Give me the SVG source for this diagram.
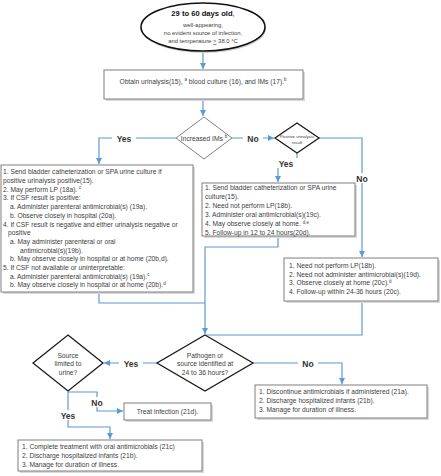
<svg xmlns="http://www.w3.org/2000/svg" width="441" height="476" viewBox="0 0 441 476">
<defs>
<style>
.t{font-family:"Liberation Sans",Arial,sans-serif;font-size:6.7px;fill:#404040}
.c{text-anchor:middle}
.lb{font-family:"Liberation Sans",Arial,sans-serif;font-size:8.5px;font-weight:bold;fill:#333;text-anchor:middle}
.box{fill:#fff;stroke:#7f7f7f;stroke-width:1}
.sh{fill:#d9d9d9}
.con{fill:none;stroke:#5b9bd5;stroke-width:1.2}
.dk{fill:#fff;stroke:#1a1a1a;stroke-width:1.3}
.bg{fill:#fff}
</style>
<marker id="ah" viewBox="0 0 10 10" refX="10" refY="5" markerWidth="6" markerHeight="6" markerUnits="userSpaceOnUse" orient="auto">
<path d="M0,0 L10,5 L0,10 z" fill="#5b9bd5"/>
</marker>
</defs>
<rect width="441" height="476" fill="#fff"/>

<g id="connectors">
<path class="con" d="M203,51 V69" marker-end="url(#ah)"/>
<path class="con" d="M203,100 V116" marker-end="url(#ah)"/>
<path class="con" d="M176,138 H99 V164" marker-end="url(#ah)"/>
<path class="con" d="M232,138 H274" marker-end="url(#ah)"/>
<path class="con" d="M319,138 H362 V257" marker-end="url(#ah)"/>
<path class="con" d="M297,153 V163 H278 V182" marker-end="url(#ah)"/>
<path class="con" d="M99,293 V303 H205"/>
<path class="con" d="M278,237 V247 H205 V334" marker-end="url(#ah)"/>
<path class="con" d="M362,302 V335 H206"/>
<path class="con" d="M157,363 H104" marker-end="url(#ah)"/>
<path class="con" d="M253,363 H342 V384" marker-end="url(#ah)"/>
<path class="con" d="M68,392 H97 V411 H123" marker-end="url(#ah)"/>
<path class="con" d="M68,392 V427 H110 V439" marker-end="url(#ah)"/>
<rect class="bg" x="112" y="133" width="24" height="10"/>
<text class="lb" x="124" y="141.5">Yes</text>
<rect class="bg" x="243" y="133" width="20" height="10"/>
<text class="lb" x="253" y="141.5">No</text>
<rect class="bg" x="352" y="173" width="20" height="10"/>
<text class="lb" x="362" y="181.5">No</text>
<rect class="bg" x="274" y="158" width="24" height="10"/>
<text class="lb" x="286" y="166.5">Yes</text>
<rect class="bg" x="119" y="358" width="24" height="10"/>
<text class="lb" x="131" y="366.5">Yes</text>
<rect class="bg" x="298" y="358" width="20" height="10"/>
<text class="lb" x="308" y="366.5">No</text>
<rect class="bg" x="87" y="397" width="20" height="10"/>
<text class="lb" x="97" y="405.5">No</text>
<rect class="bg" x="56" y="410" width="24" height="10"/>
<text class="lb" x="68" y="418.5">Yes</text>
</g>

<g id="start">
<ellipse cx="204" cy="29" rx="62" ry="24" fill="#d0d0d0"/>
<ellipse cx="203" cy="27" rx="62" ry="24" fill="#fff" stroke="#111" stroke-width="1.6"/>
<text class="t c" x="203" y="16" style="font-size:7.6px;fill:#111"><tspan font-weight="bold">29 to 60 days old</tspan>,</text>
<text class="t c" x="203" y="26.5" style="font-size:5.9px">well-appearing,</text>
<text class="t c" x="203" y="34.5" style="font-size:5.9px">no evident source of infection,</text>
<text class="t c" x="203" y="43" style="font-size:5.9px">and temperature <tspan text-decoration="underline">&gt;</tspan> 38.0 °C</text>
</g>

<g id="obtain">
<rect class="sh" x="106" y="72" width="199" height="29"/>
<rect class="box" x="104" y="70" width="199" height="29"/>
<text class="t c" x="203" y="83.5">Obtain urinalysis(15), <tspan font-size="4.5" dy="-2.5">a</tspan><tspan dy="2.5"> blood culture (16), and IMs (17).</tspan><tspan font-size="4.5" dy="-2.5">b</tspan></text>
</g>

<g id="increased-ims">
<path d="M204,117 L232,138 L204,159 L176,138 Z" fill="#fff" stroke="#7f7f7f" stroke-width="1"/>
<text class="t c" x="204" y="140.5">Increased IMs <tspan font-size="4.5" dy="-2.5">b</tspan></text>
</g>

<g id="positive-urinalysis">
<path d="M297,123 L319,138 L297,153 L275,138 Z" class="dk" stroke-width="1.6"/>
<text class="t c" x="297" y="137.5" style="font-size:4.3px">Positive urinalysis</text>
<text class="t c" x="297" y="144" style="font-size:4.3px">result</text>
</g>

<g id="left-box">
<rect class="sh" x="3" y="167" width="192" height="127"/>
<rect class="box" x="1" y="165" width="192" height="127"/>
<text class="t" x="3" y="174.3">1. Send bladder catheterization or SPA urine culture if</text>
<text class="t" x="3" y="183">positive urinalysis positive(15).</text>
<text class="t" x="3" y="191.7">2. May perform LP (18a). <tspan font-size="4.5" dy="-2.5">c</tspan></text>
<text class="t" x="3" y="200.4">3. If CSF result is positive:</text>
<text class="t" x="10" y="209.1">a. Administer parenteral antimicrobial(s) (19a).</text>
<text class="t" x="10" y="217.8">b. Observe closely in hospital (20a).</text>
<text class="t" x="3" y="226.5">4. If CSF result is negative and either urinalysis negative or</text>
<text class="t" x="8" y="235.2">positive</text>
<text class="t" x="10" y="243.9">a. May administer parenteral or oral</text>
<text class="t" x="20" y="252.6">antimicrobial(s)(19b).</text>
<text class="t" x="10" y="261.3">b. May observe closely in hospital or at home (20b,d).</text>
<text class="t" x="3" y="270">5. If CSF not available or uninterpretable:</text>
<text class="t" x="10" y="278.7">a. Administer parenteral antimicrobial(s) (19a).<tspan font-size="4.5" dy="-2.5">c</tspan></text>
<text class="t" x="10" y="287.4">b. May observe closely in hospital or at home (20b).<tspan font-size="4.5" dy="-2.5">d</tspan></text>
</g>

<g id="middle-box">
<rect class="sh" x="204" y="185" width="153" height="53"/>
<rect class="box" x="202" y="183" width="153" height="53"/>
<text class="t" x="205" y="190.3">1. Send bladder catheterization or SPA urine</text>
<text class="t" x="205" y="199.3">culture(15).</text>
<text class="t" x="205" y="208.3">2. Need not perform LP(18b).</text>
<text class="t" x="205" y="217.3">3. Administer oral antimicrobial(s)(19c).</text>
<text class="t" x="205" y="226.3">4. May observe closely at home. <tspan font-size="4.5" dy="-2.5">d,e</tspan></text>
<text class="t" x="205" y="235.3">5. Follow-up in 12 to 24 hours(20d).</text>
</g>

<g id="right-box">
<rect class="sh" x="286" y="260" width="154" height="43"/>
<rect class="box" x="284" y="258" width="154" height="43"/>
<text class="t" x="289" y="268.3">1. Need not perform LP(18b).</text>
<text class="t" x="289" y="276.8">2. Need not administer antimicrobial(s)(19d).</text>
<text class="t" x="289" y="285.3">3. Observe closely at home (20c).<tspan font-size="4.5" dy="-2.5">d</tspan></text>
<text class="t" x="289" y="294.3">4. Follow-up within 24-36 hours (20c).</text>
</g>

<g id="pathogen">
<path d="M205,335 L253,363 L205,391 L157,363 Z" class="dk"/>
<text class="t c" x="205" y="357.5">Pathogen or</text>
<text class="t c" x="205" y="366.3">source identified at</text>
<text class="t c" x="205" y="375.3">24 to 36 hours?</text>
</g>

<g id="source">
<path d="M68,335 L103,363 L68,391 L33,363 Z" class="dk"/>
<text class="t c" x="68" y="357.5">Source</text>
<text class="t c" x="68" y="366.3">limited to</text>
<text class="t c" x="68" y="375.3">urine?</text>
</g>

<g id="discontinue-box">
<rect class="sh" x="257" y="387" width="172" height="33"/>
<rect class="box" x="255" y="385" width="172" height="33"/>
<text class="t" x="259" y="394.3">1. Discontinue antimicrobials if administered (21a).</text>
<text class="t" x="259" y="403.3">2. Discharge hospitalized infants (21b).</text>
<text class="t" x="259" y="412.3">3. Manage for duration of illness.</text>
</g>

<g id="treat-box">
<rect class="sh" x="126" y="405" width="87" height="17"/>
<rect class="box" x="124" y="403" width="87" height="17"/>
<text class="t c" x="167.5" y="414">Treat infection (21d).</text>
</g>

<g id="complete-box">
<rect class="sh" x="20" y="442" width="184" height="31"/>
<rect class="box" x="18" y="440" width="184" height="31"/>
<text class="t" x="22" y="449.3">1. Complete treatment with oral antimicrobials  (21c)</text>
<text class="t" x="22" y="457.8">2. Discharge hospitalized infants (21b).</text>
<text class="t" x="22" y="466.8">3. Manage for duration of illness.</text>
</g>
</svg>
